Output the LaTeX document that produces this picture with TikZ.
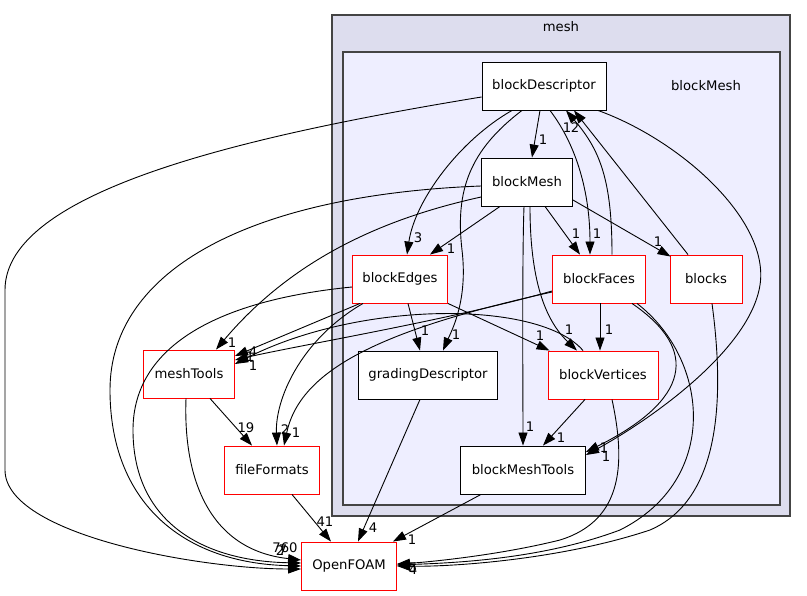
\documentclass[tikz,border=0pt]{standalone}
\usepackage{fontspec}
\setmainfont{DejaVu Sans}
\usetikzlibrary{arrows.meta}

\definecolor{meshbg}{HTML}{DDDDEE}
\definecolor{blockbg}{HTML}{EEEEFF}
\definecolor{clusterline}{HTML}{444444}

\begin{document}
\begin{tikzpicture}[x=1pt, y=-1pt,
    every node/.style={font=\fontsize{13.2}{15}\selectfont},
    dir/.style={draw=black, fill=white, line width=0.9pt, minimum height=48pt, inner sep=0pt, align=center},
    subdir/.style={dir, draw=red},
    cluster/.style={draw=clusterline, line width=1.4pt},
    dep/.style={-{Triangle[length=13pt,width=9pt]}, line width=0.9pt},
    lbl/.style={inner sep=0pt}
]
\useasboundingbox (0,0) rectangle (807,596);

\draw[cluster, fill=meshbg] (332,15) rectangle (790,516);
\draw[cluster, fill=blockbg] (343,52) rectangle (780,505);
\node (meshname) at (561,27) {mesh};
\node (blockmeshname) at (706,86) {blockMesh};

\node[dir, minimum width=124pt] (desc) at (544,86) {blockDescriptor};
\node[dir, minimum width=91pt] (bm) at (527,182) {blockMesh};
\node[subdir, minimum width=95pt] (edges) at (400,279) {blockEdges};
\node[subdir, minimum width=93pt] (faces) at (599,279) {blockFaces};
\node[subdir, minimum width=72pt] (blocks) at (706,279) {blocks};
\node[dir, minimum width=139pt] (grading) at (428,375) {gradingDescriptor};
\node[subdir, minimum width=110pt] (verts) at (603,375) {blockVertices};
\node[dir, minimum width=125pt] (bmt) at (523,470) {blockMeshTools};
\node[subdir, minimum width=91pt] (meshtools) at (189,374) {meshTools};
\node[subdir, minimum width=95pt] (fileformats) at (272,470) {fileFormats};
\node[subdir, minimum width=95pt] (foam) at (349,566) {OpenFOAM};

\draw[dep] ([yshift=-11pt]desc.west) .. controls (250,135) and (5,190) .. (5,290) -- (5,470) .. controls (5,535) and (200,569) .. ([yshift=-3pt]foam.west);
\draw[dep] ([xshift=-4pt]desc.south) -- ([xshift=5pt]bm.north);
\draw[dep] ([xshift=-32pt]desc.south) .. controls (460,140) and (415,200) .. ([xshift=7pt]edges.north);
\draw[dep] ([xshift=-22pt]desc.south) .. controls (470,150) and (455,190) .. (462,250) .. controls (468,300) and (452,330) .. ([xshift=15pt]grading.north);
\draw[dep] ([xshift=6pt]desc.south) .. controls (580,150) and (590,200) .. ([xshift=-9pt]faces.north);
\draw[dep] ([xshift=54pt]desc.south) .. controls (680,140) and (770,220) .. (760,285) .. controls (750,350) and (650,420) .. ([yshift=15pt]bmt.east);

\draw[dep] ([xshift=13pt]faces.north) .. controls (612,180) and (600,150) .. ([xshift=22pt]desc.south);
\draw[dep] ([xshift=-18pt]blocks.north) -- ([xshift=30pt]desc.south);

\draw[dep] ([xshift=-27pt]bm.south) -- ([xshift=30pt]edges.north);
\draw[dep] ([xshift=18pt]bm.south) -- ([xshift=-19pt]faces.north);
\draw[dep] ([yshift=-18pt]bm.east) -- ([xshift=1pt,yshift=-2pt]blocks.north west);
\draw[dep] ([xshift=3pt]bm.south) .. controls (530,280) and (545,320) .. ([xshift=-26pt]verts.north);
\draw[dep] ([xshift=-3pt]bm.south) .. controls (522,260) and (523,400) .. (bmt.north);
\draw[dep] ([yshift=-15pt]bm.west) .. controls (400,215) and (300,250) .. ([xshift=27pt]meshtools.north);
\draw[dep] ([yshift=-4pt]bm.west) .. controls (250,195) and (110,270) .. (110,390) .. controls (110,500) and (180,563) .. (foam.west);

\draw[dep] ([yshift=-8pt]edges.west) .. controls (220,300) and (133,345) .. (133,430) .. controls (133,520) and (200,561) .. ([yshift=3pt]foam.west);
\draw[dep] ([xshift=-40pt]edges.south) -- ([yshift=18pt]meshtools.east);
\draw[dep] ([xshift=-37pt]edges.south) .. controls (300,340) and (275,400) .. ([xshift=5pt]fileformats.north);
\draw[dep] ([xshift=8pt]edges.south) -- ([xshift=-8pt]grading.north);
\draw[dep] (edges.south east) -- ([xshift=2pt]verts.north west);

\draw[dep] ([yshift=-12pt]faces.west) .. controls (450,320) and (300,345) .. ([yshift=14pt]meshtools.east);
\draw[dep] ([yshift=-13pt]faces.west) .. controls (380,330) and (300,370) .. ([xshift=12pt]fileformats.north);
\draw[dep] ([xshift=1pt]faces.south) -- ([xshift=-3pt]verts.north);
\draw[dep] ([xshift=33pt]faces.south) .. controls (700,350) and (690,400) .. ([yshift=18pt]bmt.east);
\draw[dep] ([xshift=38pt]faces.south) .. controls (710,360) and (720,480) .. (620,530) .. controls (540,560) and (450,563) .. ([yshift=1pt]foam.east);

\draw[dep] ([xshift=-20pt]verts.north) .. controls (540,300) and (360,300) .. ([yshift=10pt]meshtools.east);
\draw[dep] ([xshift=-18pt]verts.south) -- ([xshift=20pt]bmt.north);
\draw[dep] ([xshift=9pt]verts.south) .. controls (625,460) and (625,520) .. (560,540) .. controls (500,555) and (430,562) .. ([yshift=2pt]foam.east);

\draw[dep] ([xshift=6pt]blocks.south) .. controls (725,400) and (720,500) .. (650,530) .. controls (560,560) and (450,567) .. (foam.east);

\draw[dep] ([xshift=-3pt]meshtools.south) .. controls (183,480) and (210,550) .. ([yshift=6pt]foam.west);
\draw[dep] ([xshift=21pt]meshtools.south) -- ([xshift=-20pt]fileformats.north);

\draw[dep] ([xshift=20pt]fileformats.south) -- ([xshift=-18pt]foam.north);
\draw[dep] ([xshift=-8pt]grading.south) -- ([xshift=9pt]foam.north);
\draw[dep] ([xshift=-42pt]bmt.south) -- ([xshift=-4pt]foam.north east);

\node[lbl] (l1) at (543,140) {1};
\node[lbl] (l2) at (418,238) {3};
\node[lbl] (l3) at (451,249) {1};
\node[lbl] (l4) at (456,335) {1};
\node[lbl] (l5) at (425,331) {1};
\node[lbl] (l6) at (576,234) {1};
\node[lbl] (l7) at (597,234) {1};
\node[lbl] (l8) at (658,242) {1};
\node[lbl] (l9) at (567,128) {1};
\node[lbl] (l10) at (575,128) {2};
\node[lbl] (l11) at (540,336) {1};
\node[lbl] (l12) at (569,330) {1};
\node[lbl] (l13) at (609,330) {1};
\node[lbl] (l14) at (232,343) {1};
\node[lbl] (l15) at (253,352) {4};
\node[lbl] (l16) at (250,357) {1};
\node[lbl] (l17) at (253,366) {1};
\node[lbl] (l18) at (246,428) {19};
\node[lbl] (l19) at (285,430) {2};
\node[lbl] (l20) at (296,433) {1};
\node[lbl] (l21) at (530,427) {1};
\node[lbl] (l22) at (561,438) {1};
\node[lbl] (l23) at (604,448) {1};
\node[lbl] (l24) at (606,457) {1};
\node[lbl] (l25) at (325,522) {41};
\node[lbl] (l26) at (373,528) {4};
\node[lbl] (l27) at (412,540) {1};
\node[lbl] (l28) at (285,548) {760};
\node[lbl] (l29) at (280,551) {2};
\node[lbl] (l30) at (283,550) {7};
\node[lbl] (l31) at (413,568) {5};
\node[lbl] (l32) at (413,570) {4};
\end{tikzpicture}
\end{document}
